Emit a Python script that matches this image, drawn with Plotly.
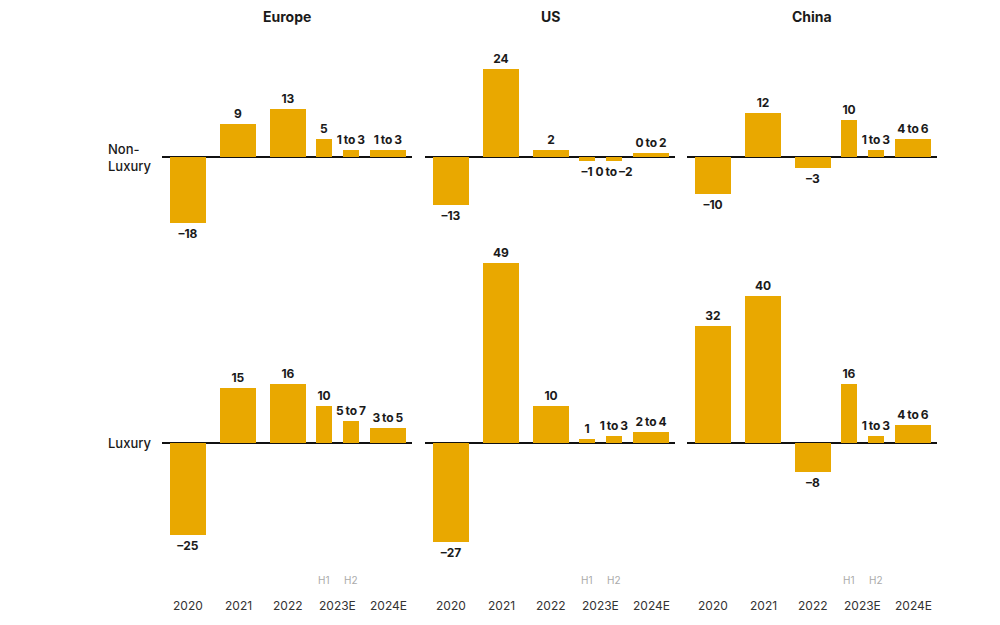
import plotly.graph_objects as go

regions = ["Europe", "US", "China"]
segments = ["Non-<br>Luxury", "Luxury"]
categories = ["2020", "2021", "2022", "2023E H1", "2023E H2", "2024E"]
cat_pos = [0, 1, 2, 2.72, 3.26, 4]
cat_width = [0.72, 0.72, 0.72, 0.32, 0.32, 0.72]
year_labels = ["2020", "2021", "2022", "2023E", "2024E"]
year_pos = [0, 1, 2, 2.99, 4]
half_labels = ["H1", "H2"]

TS = "\u2009"  # thin space used in range labels
M = "\u2013"   # dash for negatives

# bar heights (midpoint of ranges) and printed labels
nonlux_values = {
    "Europe": [-18, 9, 13, 5, 2, 2],
    "US": [-13, 24, 2, -1, -1, 1],
    "China": [-10, 12, -3, 10, 2, 5],
}
nonlux_labels = {
    "Europe": [M + "18", "9", "13", "5", "1" + TS + "to" + TS + "3", "1" + TS + "to" + TS + "3"],
    "US": [M + "13", "24", "2", M + "1", "0" + TS + "to" + TS + M + "2", "0" + TS + "to" + TS + "2"],
    "China": [M + "10", "12", M + "3", "10", "1" + TS + "to" + TS + "3", "4" + TS + "to" + TS + "6"],
}
lux_values = {
    "Europe": [-25, 15, 16, 10, 6, 4],
    "US": [-27, 49, 10, 1, 2, 3],
    "China": [32, 40, -8, 16, 2, 5],
}
lux_labels = {
    "Europe": [M + "25", "15", "16", "10", "5" + TS + "to" + TS + "7", "3" + TS + "to" + TS + "5"],
    "US": [M + "27", "49", "10", "1", "1" + TS + "to" + TS + "3", "2" + TS + "to" + TS + "4"],
    "China": ["32", "40", M + "8", "16", "1" + TS + "to" + TS + "3", "4" + TS + "to" + TS + "6"],
}

BAR = "#E9A800"
FONT = "Inter"

W, H = 984, 609
OFF = 8


def px(x):
    return (x - OFF) / W


def py(y):
    return 1 - (y - OFF) / H


x_domains = [[px(162), px(412)], [px(425), px(675)], [px(687), px(937)]]
y_domains = [[py(250), py(30)], [py(565), py(250)]]
y_ranges = [[-25.3, 34.6], [-33.2, 52.6]]
x_range = [-0.52, 4.48]

fig = go.Figure()
layout = dict(
    width=W, height=H,
    margin=dict(l=0, r=0, t=0, b=0),
    paper_bgcolor="white", plot_bgcolor="white",
    showlegend=False,
    font=dict(family=FONT, color="#222"),
    bargap=0,
)
annotations = []
idx = 0
for r, (vals, labs) in enumerate([(nonlux_values, nonlux_labels), (lux_values, lux_labels)]):
    for c, reg in enumerate(regions):
        idx += 1
        sfx = "" if idx == 1 else str(idx)
        fig.add_trace(go.Bar(
            x=cat_pos, y=vals[reg], width=cat_width,
            marker=dict(color=BAR, line=dict(width=0)),
            text=labs[reg], textposition="outside", cliponaxis=False,
            constraintext="none", textangle=0,
            textfont=dict(family=FONT, size=12, color="#1a1a1a", weight="bold"),
            xaxis="x" + sfx, yaxis="y" + sfx, hoverinfo="skip",
        ))
        layout["xaxis" + sfx] = dict(domain=x_domains[c], range=x_range, anchor="y" + sfx,
                                     showgrid=False, zeroline=False, showticklabels=False,
                                     ticks="", showline=False, fixedrange=True)
        layout["yaxis" + sfx] = dict(domain=y_domains[r], range=y_ranges[r], anchor="x" + sfx,
                                     showgrid=False, zeroline=True, zerolinecolor="#111",
                                     zerolinewidth=1.5, showticklabels=False, ticks="",
                                     showline=False, fixedrange=True)
        if r == 1:
            for yl, yp in zip(year_labels, year_pos):
                annotations.append(dict(x=yp, xref="x" + sfx, y=py(605), yref="paper",
                                        text=yl, showarrow=False, xanchor="center", yanchor="middle",
                                        font=dict(family=FONT, size=12, color="#333")))
            for hl, hp in zip(half_labels, cat_pos[3:5]):
                annotations.append(dict(x=hp, xref="x" + sfx, y=py(580), yref="paper",
                                        text=hl, showarrow=False, xanchor="center", yanchor="middle",
                                        font=dict(family=FONT, size=10, color="#aaa")))

for c, reg in enumerate(regions):
    annotations.append(dict(x=sum(x_domains[c]) / 2, xref="paper", y=py(17), yref="paper",
                            text="<b>" + reg + "</b>", showarrow=False, xanchor="center",
                            yanchor="middle", borderpad=0,
                            font=dict(family=FONT, size=14, color="#1a1a1a")))

seg_y = [py(157), py(443)]
for s, sy in zip(segments, seg_y):
    annotations.append(dict(x=px(106), xref="paper", y=sy, yref="paper", text=s, showarrow=False,
                            xanchor="left", yanchor="middle", align="left",
                            font=dict(family=FONT, size=13, color="#1a1a1a", weight=500)))

layout["annotations"] = annotations
fig.update_layout(**layout)
fig.write_html("out.html")
